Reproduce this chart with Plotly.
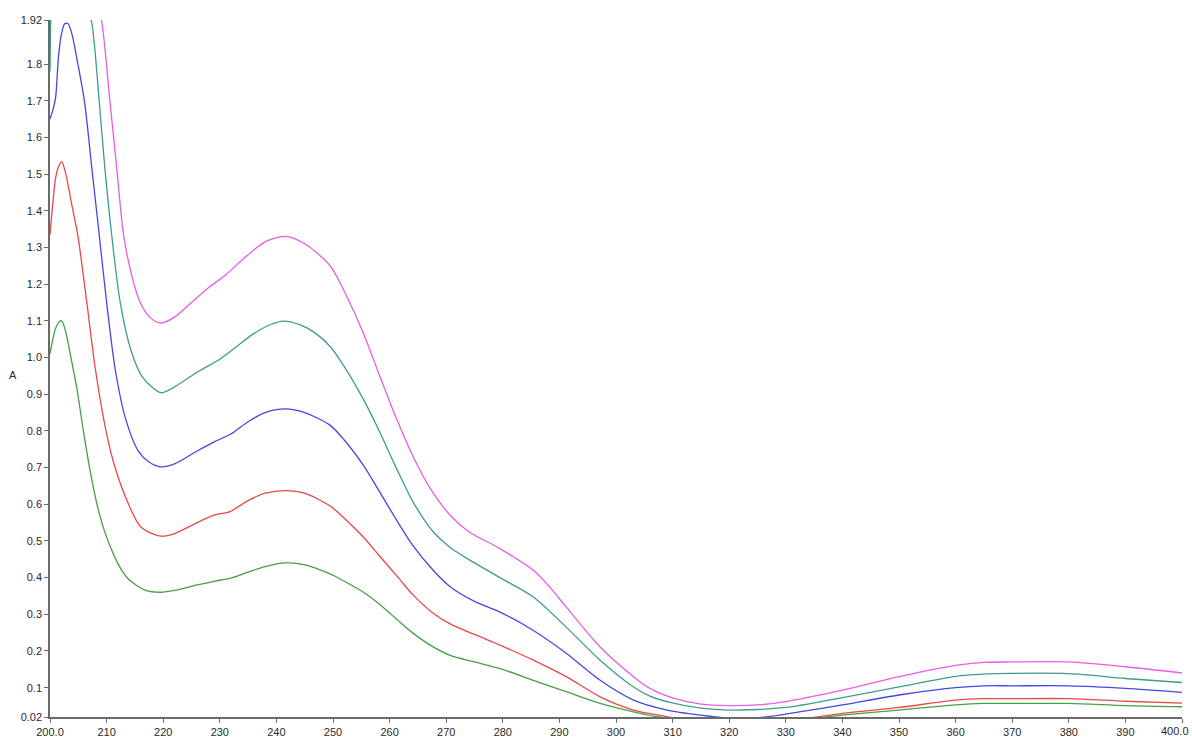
import plotly.graph_objects as go

# Absorbance spectra (wavelength in nm, absorbance A) for five samples
wl_magenta = [200, 201, 202, 203, 204, 205, 206, 207, 208, 209.2, 210.6, 211.8, 213.0, 214.4, 215.9,
              217.6, 219.6, 222, 225, 228, 231, 235, 238, 241.5, 245, 249.5, 252, 255.4, 258, 261.3,
              264, 267.1, 270.7, 274, 279.5, 285.4, 288.3, 291.2, 297.2, 303.1, 306, 310, 315, 320,
              325, 330, 340, 350, 360, 365, 370, 380, 390, 400]
a_magenta = [2.60, 2.75, 2.80, 2.78, 2.65, 2.45, 2.25, 2.10, 2.00, 1.91, 1.697, 1.515, 1.334, 1.226, 1.151,
             1.11, 1.094, 1.11, 1.15, 1.19, 1.225, 1.28, 1.315, 1.33, 1.31, 1.25, 1.18, 1.065, 0.96, 0.83,
             0.735, 0.645, 0.57, 0.525, 0.479, 0.42, 0.374, 0.32, 0.211, 0.13, 0.098, 0.072, 0.055, 0.051,
             0.053, 0.062, 0.093, 0.13, 0.161, 0.169, 0.17, 0.17, 0.157, 0.14]

wl_teal = [200, 200.4, 201, 202, 203, 204, 205, 206, 207.4, 208.7, 209.7, 210.9, 212.4, 214.4, 216.4,
           219.6, 222, 226, 230, 233, 236, 239, 241.2, 244, 247, 249.5, 252, 255.4, 258, 261.3, 264,
           267.7, 270.7, 275, 279.5, 285.4, 291.2, 297.2, 303.1, 306, 309, 315, 320, 330, 340, 350,
           360, 365, 370, 380, 390, 400]
a_teal = [1.78, 2.05, 2.12, 2.16, 2.16, 2.12, 2.06, 1.99, 1.91, 1.697, 1.515, 1.334, 1.151, 1.015, 0.945,
          0.904, 0.92, 0.96, 0.995, 1.03, 1.065, 1.09, 1.099, 1.09, 1.065, 1.03, 0.975, 0.885, 0.805, 0.695,
          0.61, 0.525, 0.482, 0.44, 0.40, 0.347, 0.265, 0.175, 0.102, 0.077, 0.062, 0.044, 0.039, 0.046,
          0.073, 0.102, 0.131, 0.137, 0.139, 0.138, 0.125, 0.114]

wl_blue = [200, 200.6, 201, 201.5, 202, 202.6, 203.2, 203.9, 204.8, 206.1, 207.4, 208.7, 210.0, 211.5,
           213.3, 215.6, 217.5, 219.6, 222, 226, 229, 231.8, 235, 238, 241.5, 245, 249.5, 252, 255.4, 258,
           261.3, 264, 267.7, 270.7, 275, 279.5, 285.4, 291.2, 297.2, 303.1, 309, 315, 320, 325, 330,
           340, 350, 360, 365, 370, 380, 390, 400]
a_blue = [1.65, 1.68, 1.71, 1.82, 1.88, 1.91, 1.91, 1.88, 1.81, 1.697, 1.515, 1.334, 1.151, 0.97,
          0.836, 0.745, 0.715, 0.702, 0.71, 0.745, 0.77, 0.79, 0.825, 0.85, 0.86, 0.85, 0.815, 0.775, 0.705,
          0.64, 0.555, 0.49, 0.42, 0.375, 0.335, 0.306, 0.256, 0.194, 0.12, 0.066, 0.039, 0.025, 0.017,
          0.018, 0.028, 0.053, 0.08, 0.10, 0.105, 0.105, 0.105, 0.098, 0.087]

wl_red = [200, 200.5, 201, 201.5, 202.06, 202.7, 203.8, 204.9, 206.5, 208.0, 210.0, 211.5, 213.6, 216.1,
          219.6, 222, 226, 229, 231.8, 235, 238, 241.8, 245, 249.5, 252, 255.4, 258, 261.8, 264, 267.7,
          270.7, 275, 279.5, 285.4, 291.2, 297.2, 303.1, 309, 312, 318, 325, 333, 340, 350, 360, 365,
          370, 380, 390, 400]
a_red = [1.335, 1.42, 1.49, 1.52, 1.534, 1.506, 1.42, 1.334, 1.151, 0.97, 0.792, 0.70, 0.61, 0.537,
         0.513, 0.52, 0.55, 0.57, 0.58, 0.61, 0.63, 0.637, 0.63, 0.595, 0.562, 0.51, 0.463, 0.395, 0.355, 0.303,
         0.274, 0.245, 0.216, 0.175, 0.13, 0.075, 0.039, 0.021, 0.012, 0.005, 0.006, 0.015, 0.03, 0.046,
         0.066, 0.07, 0.07, 0.07, 0.063, 0.058]

wl_green = [200, 200.5, 201, 201.5, 202.06, 202.7, 203.7, 204.7, 205.9, 207.1, 208.3, 209.6, 211.2, 212.6,
            214.0, 216.9, 219.6, 222, 226, 229, 231.8, 235, 238, 241.5, 245, 249.5, 252, 255.4, 258,
            261.8, 264, 267.7, 270.7, 275, 279.5, 285.4, 291.2, 297.2, 303.1, 307.5, 312, 320, 328, 334,
            340, 350, 360, 365, 370, 380, 390, 400]
a_green = [1.01, 1.05, 1.08, 1.095, 1.10, 1.075, 1.00, 0.92, 0.80, 0.69, 0.60, 0.528, 0.464, 0.422,
           0.394, 0.365, 0.36, 0.365, 0.38, 0.39, 0.398, 0.415, 0.43, 0.44, 0.435, 0.41, 0.39, 0.36, 0.33,
           0.279, 0.25, 0.211, 0.188, 0.17, 0.152, 0.12, 0.089, 0.057, 0.034, 0.02, 0.01, 0.002, 0.005,
           0.015, 0.025, 0.039, 0.053, 0.057, 0.057, 0.057, 0.051, 0.048]

# x / y tick positions and their labels (the last x label is placed separately at the right edge)
x_ticks = list(range(200, 401, 10))
x_labels = ["200.0"] + [str(v) for v in range(210, 400, 10)] + [""]
x_end_label = "400.0"
y_ticks = [0.02] + [round(0.1 * i, 1) for i in range(1, 19)] + [1.92]
y_labels = ["0.02"] + [f"{0.1 * i:.1f}" for i in range(1, 19)] + ["1.92"]

series = [
    (wl_magenta, a_magenta, "#e85ce8"),
    (wl_teal, a_teal, "#3f9c8c"),
    (wl_blue, a_blue, "#4646e6"),
    (wl_red, a_red, "#e84848"),
    (wl_green, a_green, "#46a046"),
]

fig = go.Figure()
for xs, ys, col in series:
    fig.add_trace(go.Scatter(
        x=xs, y=ys, mode="lines",
        line=dict(color=col, width=1.3, shape="spline", smoothing=0.8),
        showlegend=False, hoverinfo="skip",
    ))

tick_font = dict(family="Liberation Sans, Arial, sans-serif", size=11, color="#2a2a2a")

fig.update_layout(
    width=1192, height=742,
    margin=dict(l=50, r=10, t=20, b=25),
    paper_bgcolor="white", plot_bgcolor="white",
    xaxis=dict(
        range=[200, 400], tickmode="array", tickvals=x_ticks, ticktext=x_labels,
        showgrid=False, zeroline=False, showline=True, linecolor="#6a6a6a", linewidth=1.5,
        ticks="outside", ticklen=4, tickcolor="#6a6a6a", tickfont=tick_font, automargin=False,
    ),
    yaxis=dict(
        range=[0.02, 1.92], tickmode="array", tickvals=y_ticks, ticktext=y_labels,
        showgrid=False, zeroline=False, showline=True, linecolor="#6a6a6a", linewidth=1.5,
        ticks="outside", ticklen=4, tickcolor="#6a6a6a", tickfont=tick_font, automargin=False,
    ),
    annotations=[
        dict(text="A", xref="paper", yref="paper", x=-0.033, y=0.49,
             xanchor="center", yanchor="middle", showarrow=False, font=tick_font),
        dict(text=x_end_label, xref="x", yref="paper", x=400, y=0, yshift=-6, xshift=9,
             xanchor="right", yanchor="top", showarrow=False, font=tick_font),
    ],
)

fig.write_html("out.html")
